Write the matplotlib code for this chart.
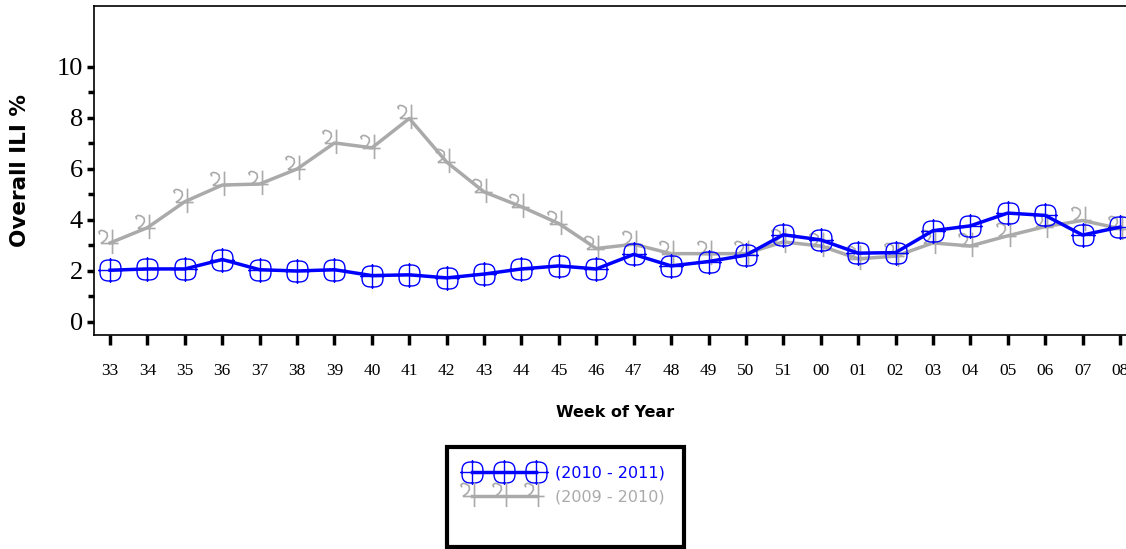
import numpy as np
import matplotlib
matplotlib.use('Agg')
import matplotlib.pyplot as plt
from matplotlib.patches import Rectangle
from matplotlib.path import Path
from matplotlib.ticker import FixedLocator

weeks = ['33', '34', '35', '36', '37', '38', '39', '40', '41', '42', '43', '44', '45', '46',
         '47', '48', '49', '50', '51', '00', '01', '02', '03', '04', '05', '06', '07', '08']
ili_2010_2011 = [2.03, 2.08, 2.08, 2.45, 2.05, 2.0, 2.05, 1.82, 1.85, 1.73, 1.88, 2.08, 2.2, 2.08,
                 2.65, 2.2, 2.37, 2.62, 3.42, 3.22, 2.7, 2.72, 3.58, 3.77, 4.27, 4.18, 3.41, 3.72]
ili_2009_2010 = [3.1, 3.7, 4.72, 5.37, 5.41, 6.0, 7.02, 6.83, 7.98, 6.27, 5.1, 4.52, 3.86, 2.88,
                 3.05, 2.68, 2.68, 2.68, 3.14, 2.98, 2.48, 2.58, 3.1, 2.98, 3.38, 3.74, 3.98, 3.66]

BLUE = '#0000ff'
GRAY = '#aaaaaa'

# marker: rounded circle with a plus through it
t = np.linspace(0, 2 * np.pi, 60)
n = 3.0
cx = 0.42 * np.sign(np.cos(t)) * np.abs(np.cos(t)) ** (2 / n)
cy = 0.42 * np.sign(np.sin(t)) * np.abs(np.sin(t)) ** (2 / n)
verts = list(zip(cx, cy)) + [(-0.5, 0), (0.5, 0), (0, -0.5), (0, 0.5)]
codes = [Path.MOVETO] + [Path.LINETO] * (len(t) - 1) + [Path.MOVETO, Path.LINETO, Path.MOVETO, Path.LINETO]
oplus = Path(verts, codes)

# marker: jupiter-like glyph, crossing point on the data value
hook = [(-0.42, 0.36), (-0.46, 0.46), (-0.38, 0.52), (-0.26, 0.5), (-0.14, 0.42),
        (-0.12, 0.28), (-0.2, 0.14), (-0.38, 0.0)]
jverts = hook + [(-0.38, 0.0), (0.32, 0.0), (0.08, -0.42), (0.08, 0.55)]
jcodes = [Path.MOVETO] + [Path.LINETO] * (len(hook) - 1) + [Path.MOVETO, Path.LINETO, Path.MOVETO, Path.LINETO]
jupiter = Path(jverts, jcodes)

fig = plt.figure(figsize=(11.26, 5.49), dpi=100)
ax = fig.add_axes([94 / 1126, 1 - 335 / 549, 1042 / 1126, 329 / 549])

x = list(range(len(weeks)))
l2, = ax.plot(x, ili_2009_2010, color=GRAY, lw=2.5, marker=jupiter, ms=20,
              mec=GRAY, mfc='none', mew=1.2, label='(2009 - 2010)')
l1, = ax.plot(x, ili_2010_2011, color=BLUE, lw=2.5, marker=oplus, ms=18,
              mec=BLUE, mfc='none', mew=1.0, label='(2010 - 2011)')

ax.set_xlim(-0.43, 27.43)
ax.set_ylim(-0.51, 12.39)
ax.set_xticks(x)
ax.set_xticklabels(weeks, family='Liberation Serif', fontsize=12.5)
ax.set_yticks([0, 2, 4, 6, 8, 10])
ax.set_yticklabels(['0', '2', '4', '6', '8', '10'], family='Liberation Serif', fontsize=19)
ax.yaxis.set_minor_locator(FixedLocator([1, 3, 5, 7, 9]))
ax.tick_params(axis='x', length=7, width=2.5, pad=13)
ax.tick_params(axis='y', which='major', length=5, width=2.5, pad=3)
ax.tick_params(axis='y', which='minor', length=4, width=2.5)
ax.spines['right'].set_visible(False)
for s in ['left', 'top', 'bottom']:
    ax.spines[s].set_linewidth(1.2)

ax.set_ylabel('Overall ILI %', fontsize=15.5, fontweight='bold', labelpad=19)
ax.set_xlabel('Week of Year', fontsize=11.5, fontweight='bold', labelpad=19)

# legend box
fig.patches.append(Rectangle((447 / 1126, 1 - 547 / 549), 237 / 1126, 100 / 549,
                             transform=fig.transFigure, fill=False, ec='black', lw=3))
leg = fig.legend(handles=[l1, l2], loc='upper left', bbox_to_anchor=(459 / 1126, 1 - 458 / 549),
                 frameon=False, numpoints=3, handlelength=4.6, fontsize=11.5,
                 labelspacing=0.55, handletextpad=0.9, borderpad=0)
for txt, c in zip(leg.get_texts(), [BLUE, GRAY]):
    txt.set_color(c)

fig.savefig('out.png', dpi=100)
